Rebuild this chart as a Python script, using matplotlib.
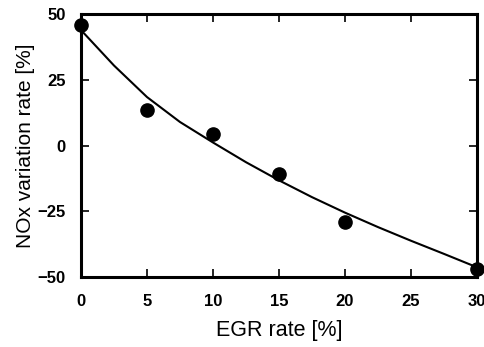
import matplotlib
matplotlib.use("Agg")
import matplotlib.pyplot as plt

plt.rcParams['font.family'] = ['Liberation Sans', 'DejaVu Sans']

egr_points = [0, 5, 10, 15, 20, 30]
nox_points = [46, 13.5, 4.6, -10.7, -28.9, -47]

curve_x = [0, 2.5, 5, 7.5, 10, 12.5, 15, 17.5, 20, 22.5, 25, 27.5, 30]
curve_y = [44, 30.5, 18.5, 9, 1.2, -6.3, -13.2, -19.6, -25.5, -31, -36.2, -41.2, -46.3]

xticks = [0, 5, 10, 15, 20, 25, 30]
yticks = [-50, -25, 0, 25, 50]

fig = plt.figure(figsize=(4.85, 3.47), dpi=100)
ax = fig.add_axes([0.167, 0.2017, 0.8165, 0.7571])

ax.plot(curve_x, curve_y, color='black', lw=1.5, clip_on=False)
ax.plot(egr_points, nox_points, 'o', color='black', markersize=9.5, clip_on=False, zorder=5)

ax.set_xlim(0, 30)
ax.set_ylim(-50, 50)
ax.set_xticks(xticks)
ax.set_yticks(yticks)
ax.tick_params(direction='in', length=6, width=1.2, top=True, right=True,
               labelsize=12)
ax.tick_params(axis='x', pad=12)
ax.tick_params(axis='y', pad=11)
for lab in ax.get_xticklabels() + ax.get_yticklabels():
    lab.set_fontweight('bold')
for s in ax.spines.values():
    s.set_linewidth(2.2)

ax.set_xlabel('EGR rate [%]', fontsize=15.5, labelpad=8)
ax.set_ylabel('NOx variation rate [%]', fontsize=15, labelpad=2)

fig.savefig('out.png', dpi=100)
